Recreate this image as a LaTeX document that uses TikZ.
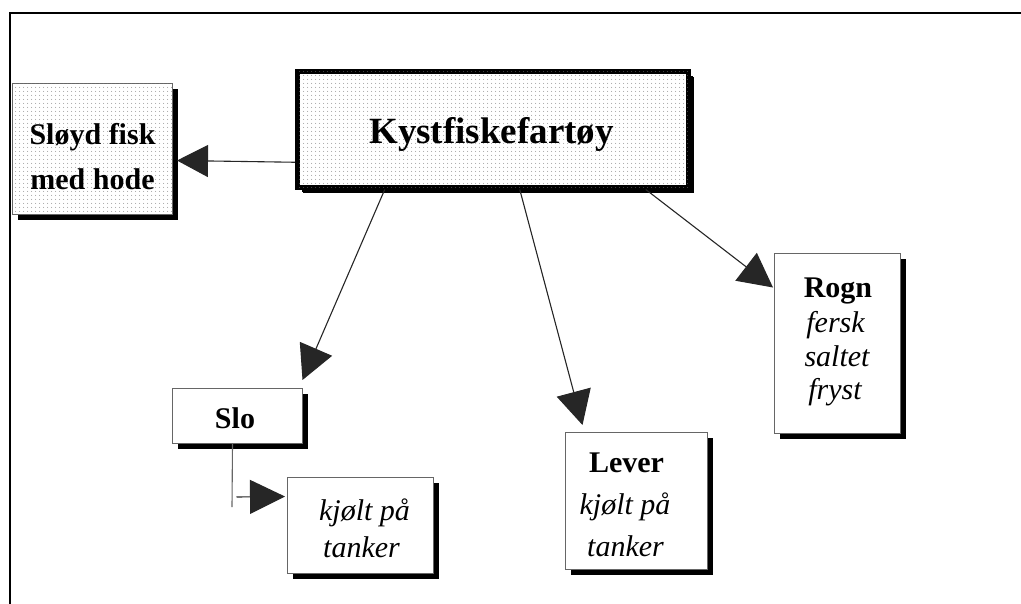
\documentclass[tikz,border=0pt]{standalone}
\usepackage{fontspec}
\setmainfont{Liberation Serif}
\usetikzlibrary{arrows.meta,shadows,patterns.meta}

\tikzset{
  frameline/.style={line width=2.5pt, line cap=rect},
  box/.style={rectangle, anchor=north west, inner sep=0pt, draw=black!60,
    line width=1pt, fill=white,
    drop shadow={shadow xshift=5pt, shadow yshift=-5pt, fill=black, opacity=1}},
  dotted box/.style={box,
    postaction={pattern={Dots[distance=4pt, radius=0.55pt]}, pattern color=black!55}},
  main box/.style={dotted box, draw=black, line width=4.5pt,
    drop shadow={shadow xshift=6pt, shadow yshift=-6pt, fill=black, opacity=1}},
  conn/.style={line width=1.1pt, draw=black!85},
  arr/.style={conn, -{Triangle[length=34pt, width=35pt]}},
  bigtxt/.style={anchor=base, inner sep=0pt, font=\fontsize{37}{37}\selectfont\bfseries},
  boldtxt/.style={anchor=base, inner sep=0pt, font=\fontsize{30}{30}\selectfont\bfseries},
  itxt/.style={anchor=base, inner sep=0pt, font=\fontsize{30}{30}\selectfont\itshape},
}

\begin{document}
\begin{tikzpicture}[x=1pt, y=-1pt]
  \useasboundingbox (0,0) rectangle (1021,603);

  % outer frame: top and left edges only
  \draw[frameline] (1021,13) -- (10,13) -- (10,603);

  % boxes
  \node[dotted box, minimum width=160pt, minimum height=131pt] (sloyd) at (12,83) {};
  \node[main box, minimum width=391pt, minimum height=116pt] (main) at (295,69) {};
  \node[box, minimum width=130pt, minimum height=55pt] (slo) at (172,388) {};
  \node[box, minimum width=146pt, minimum height=96pt] (kjolt) at (287,477) {};
  \node[box, minimum width=142pt, minimum height=137pt] (lever) at (565,432) {};
  \node[box, minimum width=126pt, minimum height=180pt] (rogn) at (774,253) {};

  % connectors
  \draw[arr, -{Triangle[length=31pt, width=32pt]}]
    ([yshift=-33pt]main.west) -- ([xshift=4pt, yshift=-11.5pt]sloyd.east);
  \draw[arr] ([xshift=-108pt]main.south) -- ([xshift=65pt, yshift=8pt]slo.north);
  \draw[arr] ([xshift=27pt]main.south) -- ([xshift=-54pt, yshift=7pt]lever.north);
  \draw[arr] ([xshift=153pt]main.south) -- ([xshift=-1pt, yshift=56pt]rogn.west);
  \coordinate (elbow) at (232,507);
  \draw[conn, draw=black!60] ([xshift=-5pt]slo.south) -- (elbow);
  \draw[arr, -{Triangle[length=35pt, width=34pt]}]
    ([xshift=-1pt, yshift=-53pt]slo.south) -- ([xshift=-2pt, yshift=29pt]kjolt.west);

  % texts
  \node[boldtxt] (t1) at (92.5,144) {Sløyd fisk};
  \node[boldtxt] (t2) at (92.5,189) {med hode};
  \node[bigtxt] (t3) at (491.5,143) {Kystfiskefartøy};
  \node[boldtxt] (t4) at (235,428) {Slo};
  \node[itxt] (t5) at (364.5,520) {kjølt på};
  \node[itxt] (t6) at (361.5,557) {tanker};
  \node[boldtxt] (t7) at (626.5,472) {Lever};
  \node[itxt] (t8) at (625,514) {kjølt på};
  \node[itxt] (t9) at (625.5,556) {tanker};
  \node[boldtxt] (t10) at (838,297) {Rogn};
  \node[itxt] (t11) at (835.5,332) {fersk};
  \node[itxt] (t12) at (837,366) {saltet};
  \node[itxt] (t13) at (835,399) {fryst};
\end{tikzpicture}
\end{document}
